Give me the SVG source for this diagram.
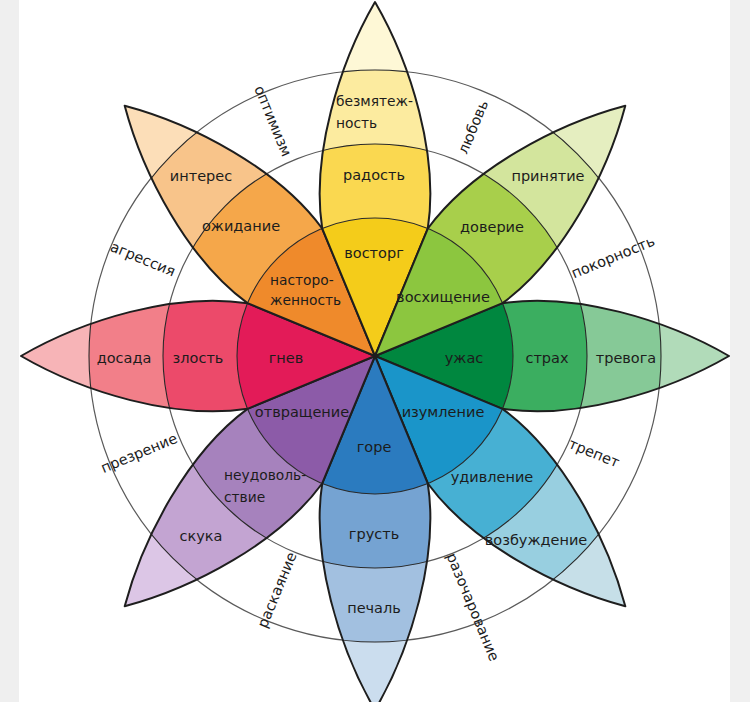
<svg xmlns="http://www.w3.org/2000/svg" xmlns:xlink="http://www.w3.org/1999/xlink" width="750" height="702" viewBox="0 0 750 702">
<style>
.lbl{font-family:"DejaVu Sans","Liberation Sans",sans-serif;font-size:14.5px;fill:#1c1c1c;text-anchor:middle;dominant-baseline:central}
.ll{text-anchor:start;font-size:13.8px}
.ring{font-family:"DejaVu Sans","Liberation Sans",sans-serif;font-size:14.5px;fill:#1c1c1c;text-anchor:middle;dominant-baseline:central}
.guide{fill:none;stroke:#5a5a5a;stroke-width:1.2}
.band{stroke:#2a2a2a;stroke-width:1.1}
.outline{fill:none;stroke:#1e1e1e;stroke-width:2;stroke-linejoin:round}
</style>
<defs>
<path id="petal" d="M0,0 L127.5,-52.8 C200,-64 292,-36 354,0 C292,36 200,64 127.5,52.8 Z"/>
<clipPath id="pc"><use xlink:href="#petal"/></clipPath>
</defs>
<rect x="0" y="0" width="750" height="702" fill="#ffffff"/>
<rect x="0" y="0" width="19" height="702" fill="#efefef"/>
<rect x="730" y="0" width="20" height="702" fill="#f0f0f0"/>

<g id="rings">
<circle class="guide" cx="375" cy="356" r="212"/>
<circle class="guide" cx="375" cy="356" r="286"/>
</g>

<g id="fear">
<g transform="translate(375,356) rotate(0)">
<g clip-path="url(#pc)">
<use xlink:href="#petal" fill="#b1dbb9"/>
<circle class="band" r="286" fill="#86c997"/>
<circle class="band" r="212" fill="#3bae60"/>
<circle class="band" r="138" fill="#00873f"/>
</g>
<use xlink:href="#petal" class="outline"/>
</g>
<text class="lbl" x="464" y="358">ужас</text>
<text class="lbl" x="547" y="358">страх</text>
<text class="lbl" x="626" y="358">тревога</text>
</g>

<g id="surprise">
<g transform="translate(375,356) rotate(45)">
<g clip-path="url(#pc)">
<use xlink:href="#petal" fill="#c6dfe8"/>
<circle class="band" r="286" fill="#98cfe0"/>
<circle class="band" r="212" fill="#47b0d3"/>
<circle class="band" r="138" fill="#1a95c9"/>
</g>
<use xlink:href="#petal" class="outline"/>
</g>
<text class="lbl" x="443" y="412">изумление</text>
<text class="lbl" x="492" y="477">удивление</text>
<text class="lbl" x="536" y="540">возбуждение</text>
</g>

<g id="sadness">
<g transform="translate(375,356) rotate(90)">
<g clip-path="url(#pc)">
<use xlink:href="#petal" fill="#cbddee"/>
<circle class="band" r="286" fill="#a2c0e0"/>
<circle class="band" r="212" fill="#75a3d2"/>
<circle class="band" r="138" fill="#2b7bbf"/>
</g>
<use xlink:href="#petal" class="outline"/>
</g>
<text class="lbl" x="374" y="447">горе</text>
<text class="lbl" x="374" y="534">грусть</text>
<text class="lbl" x="374" y="608">печаль</text>
</g>

<g id="disgust">
<g transform="translate(375,356) rotate(135)">
<g clip-path="url(#pc)">
<use xlink:href="#petal" fill="#dcc6e6"/>
<circle class="band" r="286" fill="#c3a4d2"/>
<circle class="band" r="212" fill="#a682bd"/>
<circle class="band" r="138" fill="#8c5ba8"/>
</g>
<use xlink:href="#petal" class="outline"/>
</g>
<text class="lbl" x="302" y="412">отвращение</text>
<text class="lbl ll" x="224" y="475">неудоволь-</text>
<text class="lbl ll" x="224" y="497">ствие</text>
<text class="lbl" x="201" y="536">скука</text>
</g>

<g id="anger">
<g transform="translate(375,356) rotate(180)">
<g clip-path="url(#pc)">
<use xlink:href="#petal" fill="#f7b4b7"/>
<circle class="band" r="286" fill="#f27f89"/>
<circle class="band" r="212" fill="#ec4a6a"/>
<circle class="band" r="138" fill="#e31b58"/>
</g>
<use xlink:href="#petal" class="outline"/>
</g>
<text class="lbl" x="124" y="358">досада</text>
<text class="lbl" x="198" y="358">злость</text>
<text class="lbl" x="286" y="358">гнев</text>
</g>

<g id="anticipation">
<g transform="translate(375,356) rotate(225)">
<g clip-path="url(#pc)">
<use xlink:href="#petal" fill="#fcdeb8"/>
<circle class="band" r="286" fill="#f8c48a"/>
<circle class="band" r="212" fill="#f5a74a"/>
<circle class="band" r="138" fill="#ef8a2b"/>
</g>
<use xlink:href="#petal" class="outline"/>
</g>
<text class="lbl" x="201" y="176">интерес</text>
<text class="lbl" x="241" y="226">ожидание</text>
<text class="lbl ll" x="270" y="280">насторо-</text>
<text class="lbl ll" x="270" y="300">женность</text>
</g>

<g id="joy">
<g transform="translate(375,356) rotate(270)">
<g clip-path="url(#pc)">
<use xlink:href="#petal" fill="#fef8d6"/>
<circle class="band" r="286" fill="#fceb9f"/>
<circle class="band" r="212" fill="#fad850"/>
<circle class="band" r="138" fill="#f4cc1a"/>
</g>
<use xlink:href="#petal" class="outline"/>
</g>
<text class="lbl ll" x="336" y="101">безмятеж-</text>
<text class="lbl ll" x="336" y="123">ность</text>
<text class="lbl" x="374" y="175">радость</text>
<text class="lbl" x="374" y="253">восторг</text>
</g>

<g id="trust">
<g transform="translate(375,356) rotate(315)">
<g clip-path="url(#pc)">
<use xlink:href="#petal" fill="#e5eec0"/>
<circle class="band" r="286" fill="#d3e59d"/>
<circle class="band" r="212" fill="#a8cf4b"/>
<circle class="band" r="138" fill="#8cc63f"/>
</g>
<use xlink:href="#petal" class="outline"/>
</g>
<text class="lbl" x="548" y="176">принятие</text>
<text class="lbl" x="492" y="227">доверие</text>
<text class="lbl" x="443" y="297">восхищение</text>
</g>

<g id="dyads">
<text class="ring" transform="translate(273,121) rotate(67.5)">оптимизм</text>
<text class="ring" transform="translate(473,127) rotate(-67.5)">любовь</text>
<text class="ring" transform="translate(613,257) rotate(-22.5)">покорность</text>
<text class="ring" transform="translate(594,453) rotate(22.5)">трепет</text>
<text class="ring" transform="translate(473,607) rotate(67.5)">разочарование</text>
<text class="ring" transform="translate(277,590) rotate(-67.5)">раскаяние</text>
<text class="ring" transform="translate(139,453) rotate(-22.5)">презрение</text>
<text class="ring" transform="translate(143,259) rotate(22.5)">агрессия</text>
</g>
</svg>
